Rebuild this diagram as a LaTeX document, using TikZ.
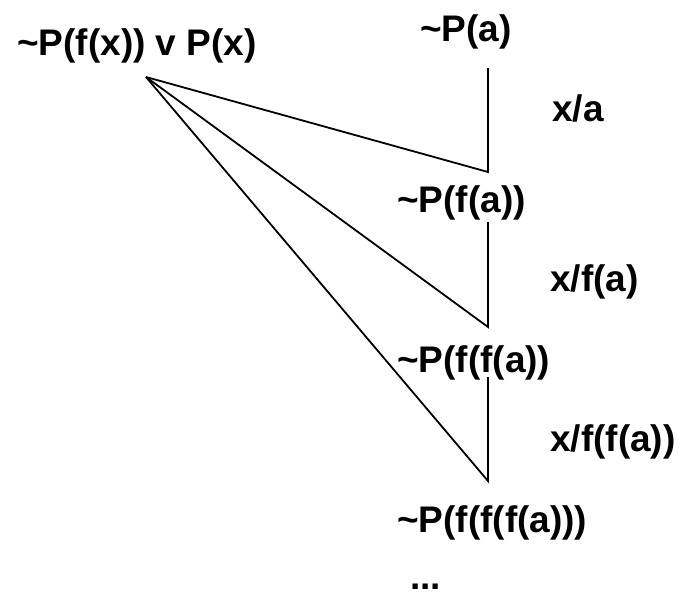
\documentclass[tikz,border=0pt]{standalone}
\usepackage{fontspec}
\setmainfont{Liberation Sans}
\begin{document}
\begin{tikzpicture}[x=1pt,y=-1pt,
  term/.style={font=\bfseries\fontsize{37}{42}\selectfont, inner sep=0pt, anchor=west},
  edge/.style={line width=1.8pt, line join=miter}]
\useasboundingbox (0,0) rectangle (679,597);
% clause and resolvents
\node[term] (clause) at (17,46) {\textasciitilde P(f(x)) v P(x)};
\node[term] (r0) at (420,32) {\textasciitilde P(a)};
\node[term] (s1) at (552,108) {x/a};
\node[term] (r1) at (397,203) {\textasciitilde P(f(a))};
\node[term] (s2) at (550,282) {x/f(a)};
\node[term] (r2) at (397,363) {\textasciitilde P(f(f(a))};
\node[term] (s3) at (550,442) {x/f(f(a))};
\node[term] (r3) at (397,523) {\textasciitilde P(f(f(f(a)))};
\node[term] (more) at (410,587) {...};
% junction points of the resolution steps
\coordinate (apex) at (146,77);
\coordinate (t1) at (488,68);  \coordinate (b1) at (488,172);
\coordinate (t2) at (488,222); \coordinate (b2) at (488,327);
\coordinate (t3) at (488,377); \coordinate (b3) at (488,481);
\draw[edge] (apex) -- (b1) -- (t1);
\draw[edge] (apex) -- (b2) -- (t2);
\draw[edge] (apex) -- (b3) -- (t3);
\end{tikzpicture}
\end{document}
